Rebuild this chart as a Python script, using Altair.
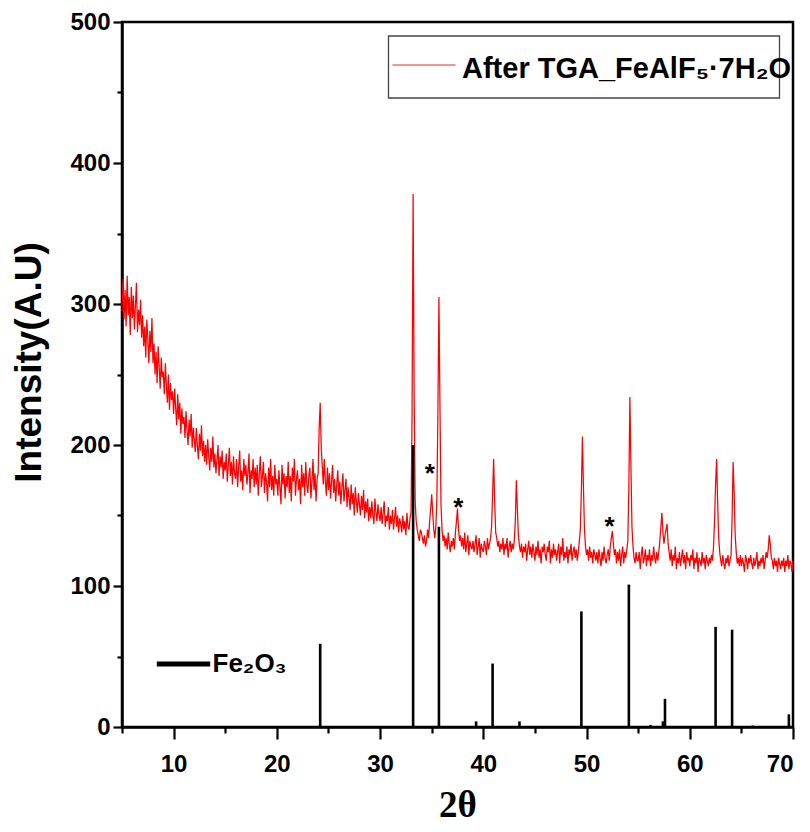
import altair as alt
import pandas as pd

# ---------------- data ----------------
theta_start = 5.0
theta_step = 0.1

r05 = [295, 318, 289, 310, 284, 320, 292, 305, 278, 312,
       290, 306, 282, 299, 315, 280, 296, 285, 303, 276,
       292, 270, 284, 262, 289, 275, 258, 281, 266, 290,
       258, 272, 250, 266, 244, 270, 256, 240, 262, 248,
       252, 236, 258, 242, 230, 250, 225, 244, 232, 238]
r10 = [222, 240, 226, 214, 236, 218, 230, 208, 226, 215,
       220, 205, 224, 210, 200, 218, 206, 222, 198, 212,
       204, 195, 212, 200, 190, 208, 196, 214, 192, 203,
       188, 200, 186, 204, 192, 182, 198, 188, 206, 184,
       194, 180, 190, 200, 178, 192, 184, 196, 176, 188]
r15 = [182, 194, 174, 186, 198, 178, 188, 172, 192, 180,
       176, 190, 170, 184, 196, 174, 182, 168, 190, 178,
       186, 172, 180, 194, 166, 182, 176, 190, 170, 184,
       172, 186, 164, 180, 192, 170, 178, 188, 166, 180,
       174, 160, 184, 170, 190, 168, 178, 164, 186, 172]
r20 = [176, 164, 182, 170, 158, 186, 172, 180, 162, 178,
       170, 188, 166, 178, 160, 184, 174, 190, 164, 176,
       182, 168, 176, 158, 186, 170, 180, 164, 188, 172,
       166, 178, 184, 162, 174, 190, 168, 180, 160, 176,
       180, 212, 230, 198, 185, 172, 190, 174, 164, 184]
r25 = [168, 180, 162, 174, 186, 166, 176, 160, 172, 182,
       164, 174, 158, 170, 180, 160, 168, 176, 156, 170,
       162, 154, 172, 158, 166, 150, 170, 160, 152, 166,
       158, 150, 164, 154, 168, 148, 160, 152, 162, 146,
       156, 148, 160, 150, 144, 162, 152, 146, 158, 150]
r30 = [146, 156, 144, 152, 160, 142, 150, 146, 156, 140,
       150, 144, 154, 140, 148, 156, 142, 150, 138, 148,
       144, 138, 150, 140, 146, 136, 152, 142, 140, 148,
       152, 222, 378, 236, 160, 146, 140, 136, 132, 140,
       138, 134, 130, 136, 128, 132, 140, 134, 146, 155]
r35 = [165, 152, 140, 134, 142, 160, 222, 305, 228, 158,
       140, 132, 136, 128, 134, 126, 138, 130, 124, 132,
       128, 134, 126, 138, 146, 155, 140, 132, 136, 128,
       134, 126, 138, 124, 130, 136, 122, 132, 128, 126,
       132, 124, 130, 136, 122, 128, 134, 120, 130, 126]
r40 = [124, 132, 128, 122, 134, 126, 130, 134, 142, 165,
       190, 160, 138, 134, 128, 132, 124, 130, 126, 134,
       122, 130, 126, 134, 120, 128, 132, 124, 130, 126,
       132, 146, 175, 154, 136, 128, 124, 130, 120, 128,
       124, 130, 118, 126, 132, 122, 128, 120, 130, 124]
r45 = [118, 128, 122, 132, 120, 126, 116, 128, 124, 130,
       122, 118, 128, 124, 132, 116, 126, 120, 130, 122,
       126, 118, 124, 130, 116, 128, 122, 134, 118, 124,
       120, 128, 116, 126, 122, 130, 118, 124, 128, 120,
       126, 118, 124, 132, 140, 168, 206, 170, 140, 128]
r50 = [122, 126, 118, 128, 120, 124, 116, 126, 122, 118,
       124, 116, 126, 120, 114, 124, 118, 128, 120, 116,
       122, 126, 118, 128, 134, 139, 130, 122, 126, 116,
       124, 118, 126, 114, 122, 128, 116, 124, 120, 126,
       132, 170, 234, 185, 142, 128, 120, 116, 124, 118]
r55 = [118, 124, 112, 122, 128, 116, 120, 126, 114, 122,
       118, 126, 114, 122, 118, 128, 120, 116, 124, 118,
       124, 132, 142, 152, 138, 130, 136, 140, 144, 130,
       124, 118, 126, 114, 122, 118, 128, 112, 120, 116,
       124, 114, 120, 126, 116, 122, 112, 124, 118, 120]
r60 = [114, 122, 118, 126, 112, 120, 116, 124, 110, 120,
       118, 114, 124, 116, 120, 112, 122, 118, 114, 120,
       116, 122, 118, 128, 146, 172, 190, 160, 134, 124,
       118, 114, 122, 116, 112, 120, 116, 122, 114, 118,
       122, 148, 188, 166, 136, 124, 116, 120, 114, 122]
r65 = [114, 120, 116, 110, 122, 118, 112, 120, 116, 122,
       116, 112, 120, 114, 118, 124, 112, 118, 114, 120,
       116, 122, 112, 118, 124, 120, 126, 136, 130, 120,
       118, 112, 120, 114, 118, 110, 120, 116, 112, 118,
       114, 120, 110, 118, 114, 122, 112, 118, 116, 110]
r70 = [118]

# Fe2O3 reference pattern (stick positions / heights)
stick_pos = [24.2, 33.2, 35.7, 39.3, 40.9, 43.5, 49.5, 54.1, 56.2, 57.4, 57.6, 62.5, 64.1, 66.1, 69.6]
stick_int = [59, 200, 142, 4, 45, 4, 82, 101, 1.5, 4, 20, 71, 69, 1, 9]

# asterisk markers
star_x = [34.83, 37.57, 52.22]
star_y = [174, 150, 136.5]

x_major = [10, 20, 30, 40, 50, 60, 70]
x_minor = [5, 15, 25, 35, 45, 55, 65]
y_major = [0, 100, 200, 300, 400, 500]
y_minor = [50, 150, 250, 350, 450]

series_label = "After TGA_FeAlF₅·7H₂O"
ref_label = "Fe₂O₃"

# ---------------- build tables ----------------
intensity = r05 + r10 + r15 + r20 + r25 + r30 + r35 + r40 + r45 + r50 + r55 + r60 + r65 + r70
theta = [round(theta_start + i * theta_step, 1) for i in range(len(intensity))]
df = pd.DataFrame({"theta": theta, "intensity": intensity})
sticks = pd.DataFrame({"theta": stick_pos, "h": stick_int, "base": [0] * len(stick_pos)})
stars = pd.DataFrame({"theta": star_x, "y": star_y})
xmin_df = pd.DataFrame({"theta": x_minor})
ymin_df = pd.DataFrame({"y": y_minor})
one = pd.DataFrame({"k": [0]})

SANS = "Liberation Sans, Arial, sans-serif"
xs = alt.Scale(domain=[5, 70], nice=False, zero=False)
ys = alt.Scale(domain=[0, 500], nice=False)

W, H = 671, 705

line = alt.Chart(df).mark_line(color="#ff0000", strokeWidth=1.25).encode(
    x=alt.X("theta:Q", scale=xs, axis=alt.Axis(
        values=x_major, title="2θ", orient="bottom", tickSize=12, tickWidth=2.2,
        labelFont=SANS, labelFontSize=24, labelFontWeight="bold", labelPadding=13,
        titleFont="Liberation Serif", titleFontSize=37, titleFontWeight="bold",
        titleX=W / 2, titleY=89, titleBaseline="alphabetic", titleAlign="center")),
    y=alt.Y("intensity:Q", scale=ys, axis=alt.Axis(
        values=y_major, title="Intensity(A.U)", orient="left", tickSize=9, tickWidth=2.2,
        labelFont=SANS, labelFontSize=24, labelFontWeight="bold", labelPadding=3,
        titleFont="Liberation Sans", titleFontSize=37, titleFontWeight="bold",
        titleX=-93, titleY=340, titleAngle=270, titleAlign="center", titleBaseline="middle")),
)

xminor = alt.Chart(xmin_df).mark_point(opacity=0).encode(
    x=alt.X("theta:Q", scale=xs, axis=alt.Axis(
        values=x_minor, labels=False, title=None, domain=False, orient="bottom",
        tickSize=6, tickWidth=2.2)),
    y=alt.value(0),
)
yminor = alt.Chart(ymin_df).mark_point(opacity=0).encode(
    y=alt.Y("y:Q", scale=ys, axis=alt.Axis(
        values=y_minor, labels=False, title=None, domain=False, orient="left",
        tickSize=5, tickWidth=2.2)),
    x=alt.value(0),
)

stick = alt.Chart(sticks).mark_rule(color="black", strokeWidth=2.6).encode(
    x=alt.X("theta:Q", scale=xs, axis=None),
    y=alt.Y("h:Q", scale=ys, axis=None),
    y2="base:Q",
)

star = alt.Chart(stars).mark_text(
    text="*", font="Liberation Sans", fontSize=26, fontWeight="bold",
    baseline="alphabetic", align="center", color="black").encode(
    x=alt.X("theta:Q", scale=xs, axis=None),
    y=alt.Y("y:Q", scale=ys, axis=None),
)

leg_box = alt.Chart(one).mark_rect(fill="white", stroke="#444444", strokeWidth=1.3).encode(
    x=alt.value(266.5), x2=alt.value(657.5), y=alt.value(14), y2=alt.value(76))
leg_line = alt.Chart(one).mark_rule(color="#e03030", strokeWidth=1.2).encode(
    x=alt.value(270.5), x2=alt.value(333.5), y=alt.value(43))
leg_text = alt.Chart(one).mark_text(
    text=series_label, font=SANS, fontSize=29, fontWeight="bold",
    align="left", baseline="alphabetic", color="black").encode(
    x=alt.value(340), y=alt.value(56))

ref_line = alt.Chart(one).mark_rule(color="black", strokeWidth=5).encode(
    x=alt.value(34.8), x2=alt.value(88.2), y=alt.value(642))
ref_text = alt.Chart(one).mark_text(
    text=ref_label, font=SANS, fontSize=26, fontWeight="bold",
    align="left", baseline="alphabetic", color="black").encode(
    x=alt.value(90.5), y=alt.value(650))

chart = alt.layer(
    line, stick, xminor, yminor, star, leg_box, leg_line, leg_text, ref_line, ref_text
).resolve_axis(x="independent", y="independent").properties(
    width=W, height=H,
    autosize=alt.AutoSizeParams(type="none"),
    padding={"left": 114, "top": 14, "right": 8, "bottom": 97},
).configure_view(stroke="black", strokeWidth=2.5).configure_axis(
    domainColor="black", domainWidth=2.5, tickColor="black", labelColor="black",
    titleColor="black", grid=False,
)

chart.save("out.html", embed_options={"renderer": "svg", "actions": False})
